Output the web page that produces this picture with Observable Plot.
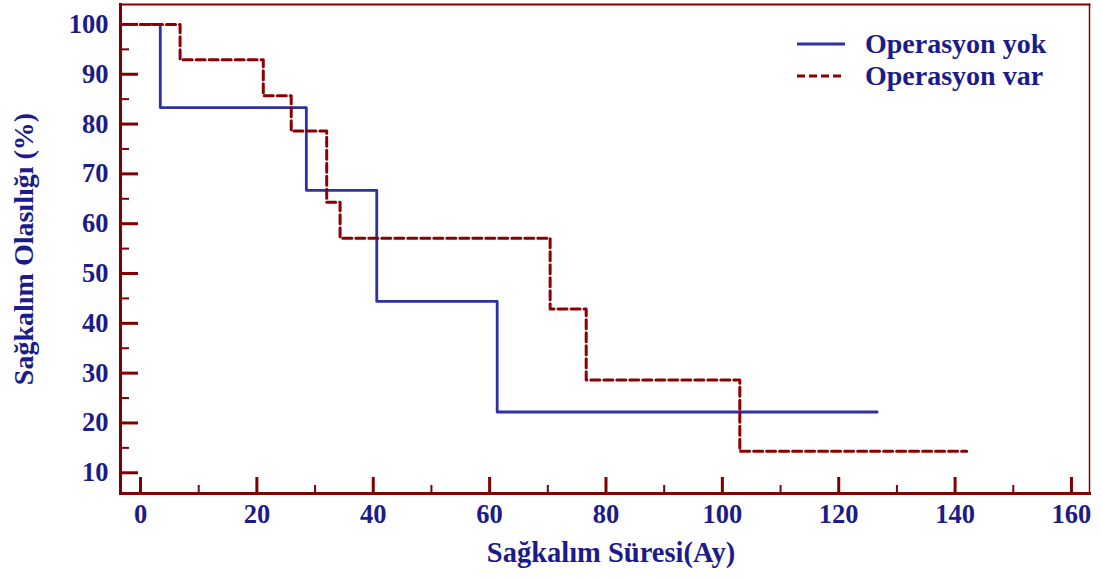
<!DOCTYPE html>
<html>
<head>
<meta charset="utf-8">
<script src="https://cdn.jsdelivr.net/npm/d3@7"></script>
<script src="https://cdn.jsdelivr.net/npm/@observablehq/plot@0.6"></script>
<style>
  html, body { margin: 0; padding: 0; background: #fff; }
  #wrap { position: relative; width: 1102px; height: 579px; font-family: "Liberation Serif", "Times New Roman", serif; }
  #legend { position: absolute; left: 797px; top: 28px; }
  .row { position: absolute; left: 0; height: 32px; display: flex; align-items: center; white-space: nowrap;
         font: bold 28px "Liberation Serif", "Times New Roman", serif; color: #1b1b8a; }
  .row svg { margin-right: 20px; }
</style>
</head>
<body>
<div id="wrap"></div>
<script>
// ---- data ----
const seriesNames = ["Operasyon yok", "Operasyon var"];
const yokTimes = [0, 3.4, 28.5, 40.6, 61.3, 126.6];
const yokSurv  = [100, 83.3, 66.7, 44.4, 22.2, 22.2];
const varTimes = [0, 6.8, 21.1, 25.9, 32.0, 34.3, 70.4, 76.6, 103.0, 142.0];
const varSurv  = [100, 92.9, 85.7, 78.6, 64.3, 57.1, 42.9, 28.6, 14.3, 14.3];
const xMajorTicks = [0, 20, 40, 60, 80, 100, 120, 140, 160];
const xMinorTicks = [10, 30, 50, 70, 90, 110, 130, 150];
const yMajorTicks = [10, 20, 30, 40, 50, 60, 70, 80, 90, 100];
const yMinorTicks = [15, 25, 35, 45, 55, 65, 75, 85, 95];
const xTitle = "Sağkalım Süresi(Ay)";
const yTitle = "Sağkalım Olasılığı (%)";

// ---- styles ----
const textColor = "#1b1b8a";
const frameColor = "#800000";
const blue = "#2f2fa6";
const red = "#8b0000";

const yok = yokTimes.map((t, i) => ({t, s: yokSurv[i]}));
const vr = varTimes.map((t, i) => ({t, s: varSurv[i]}));

const chart = Plot.plot({
  width: 1102,
  height: 579,
  marginLeft: 120,
  marginRight: 13,
  marginTop: 4,
  marginBottom: 86,
  style: {color: textColor, fontFamily: "'Liberation Serif', 'Times New Roman', serif", fontWeight: "bold", fontSize: "26px", background: "transparent"},
  x: {domain: [-3.44, 163.1]},
  y: {domain: [5.84, 104.0]},
  marks: [
    Plot.line(yok, {x: "t", y: "s", curve: "step-after", stroke: blue, strokeWidth: 2.8}),
    Plot.line(vr, {x: "t", y: "s", curve: "step-after", stroke: red, strokeWidth: 3, strokeDasharray: "9,4"}),
    // ticks (inward)
    Plot.axisX({ticks: xMajorTicks, tickSize: -16, text: null, stroke: frameColor, strokeWidth: 3, label: null}),
    Plot.axisX({ticks: xMinorTicks, tickSize: -8, text: null, stroke: frameColor, strokeWidth: 2, label: null}),
    Plot.axisY({ticks: yMajorTicks, tickSize: -18, text: null, stroke: frameColor, strokeWidth: 3, label: null}),
    Plot.axisY({ticks: yMinorTicks, tickSize: -9, text: null, stroke: frameColor, strokeWidth: 2, label: null}),
    // tick labels
    Plot.axisX({ticks: xMajorTicks, tickSize: 0, tickPadding: 11, fill: textColor, fontSize: 26.5, fontWeight: "bold", label: null}),
    Plot.axisY({ticks: yMajorTicks, tickSize: 0, tickPadding: 12, fill: textColor, fontSize: 26.5, fontWeight: "bold", label: null}),
    // frame
    Plot.frame({anchor: "left", stroke: frameColor, strokeWidth: 3}),
    Plot.frame({anchor: "bottom", stroke: frameColor, strokeWidth: 3}),
    Plot.frame({anchor: "top", stroke: frameColor, strokeWidth: 2}),
    Plot.frame({anchor: "right", stroke: frameColor, strokeWidth: 1.5}),
    // axis titles
    Plot.text([xTitle], {frameAnchor: "bottom", dy: 68, dx: 6, text: d => d, fill: textColor, fontSize: 28.5, fontWeight: "bold"}),
    Plot.text([yTitle], {frameAnchor: "left", dx: -96, rotate: -90, textAnchor: "middle", text: d => d, fill: textColor, fontSize: 28, fontWeight: "bold"})
  ]
});

const wrap = document.getElementById("wrap");
wrap.appendChild(chart);

// legend overlay
const legend = document.createElement("div");
legend.id = "legend";
const swatches = [
  {name: seriesNames[0], color: blue, dash: null, width: 2.8},
  {name: seriesNames[1], color: red, dash: "8,4", width: 3}
];
swatches.forEach((s, i) => {
  const row = document.createElement("div");
  row.className = "row";
  row.style.top = (i * 32) + "px";
  row.innerHTML = `<svg width="48" height="10"><line x1="0" x2="48" y1="5" y2="5" stroke="${s.color}" stroke-width="${s.width}" ${s.dash ? `stroke-dasharray="${s.dash}"` : ""}/></svg><span>${s.name}</span>`;
  legend.appendChild(row);
});
wrap.appendChild(legend);
</script>
</body>
</html>
